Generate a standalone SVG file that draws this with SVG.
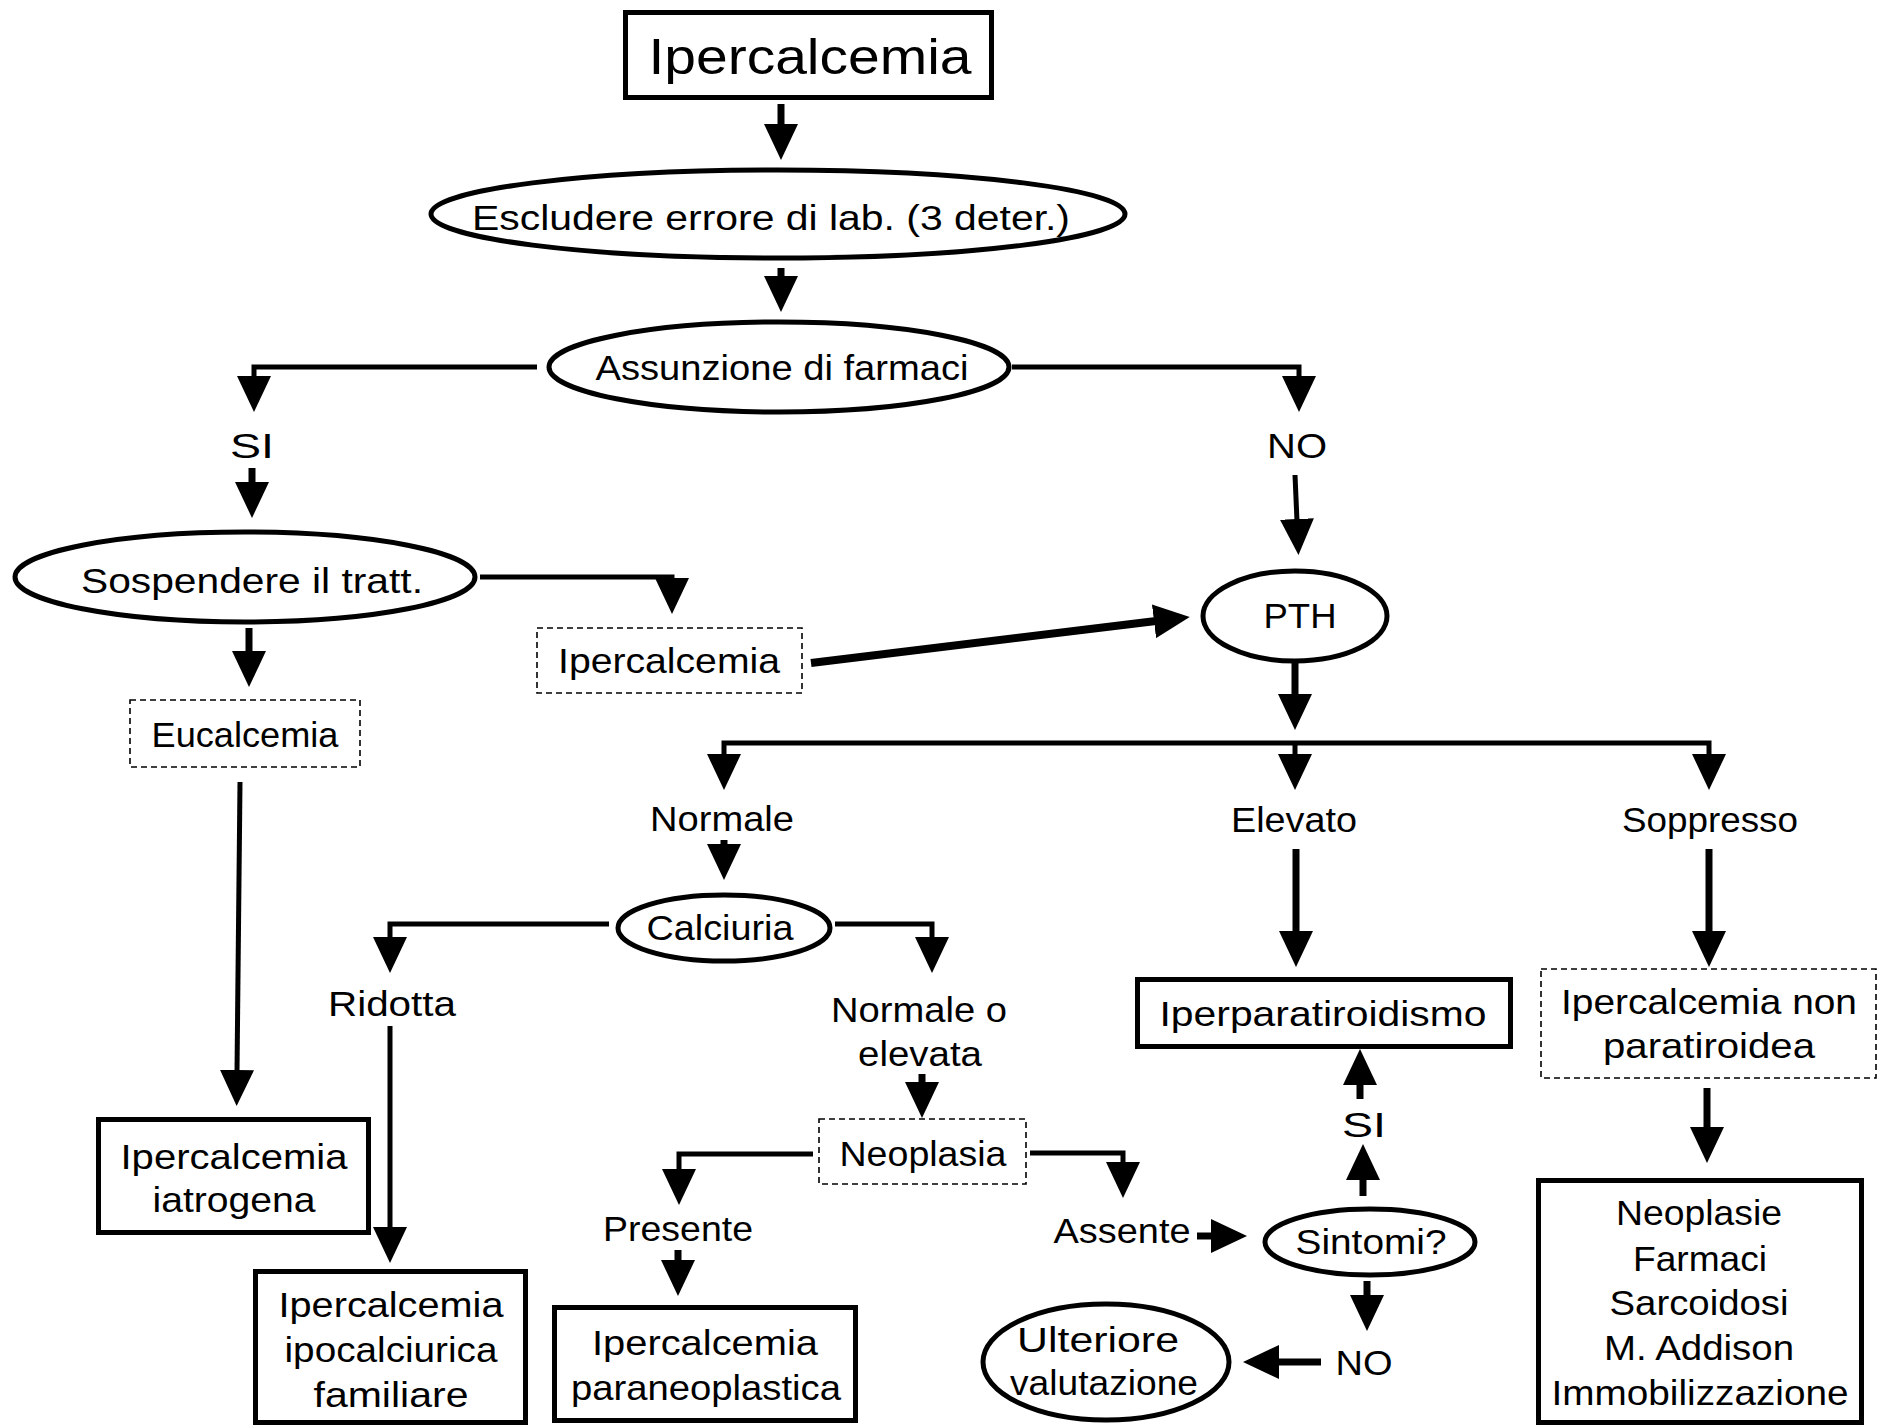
<svg xmlns="http://www.w3.org/2000/svg" width="1889" height="1428" viewBox="0 0 1889 1428">
<style>
text{font-family:"Liberation Sans","DejaVu Sans",sans-serif;font-size:35px;fill:#000;text-anchor:middle}
.t{font-size:50px}
.sh{fill:#fff;stroke:#000;stroke-width:5}
.ds{fill:#fff;stroke:#000;stroke-width:1.6;stroke-dasharray:6 4}
.c{fill:none;stroke:#000;stroke-width:5;marker-end:url(#ah)}
.c7{fill:none;stroke:#000;stroke-width:7;marker-end:url(#ah)}
</style>
<defs>
<marker id="ah" markerUnits="userSpaceOnUse" markerWidth="36" markerHeight="34" refX="2" refY="17" orient="auto" viewBox="0 0 36 34">
<path d="M0,0 L36,17 L0,34 z" fill="#000"/>
</marker>
</defs>
<rect width="1889" height="1428" fill="#fff"/>
<g id="connectors">
<path class="c7" d="M781,104 V126"/>
<path class="c7" d="M781,268 V278"/>
<path class="c" d="M537,367 H254 V378"/>
<path class="c7" d="M252,468 V484"/>
<path class="c" d="M480,577 H672 V580"/>
<path class="c7" d="M249,628 V653"/>
<path class="c" d="M240,782 L237,1072"/>
<path fill="none" stroke="#000" stroke-width="8" marker-end="url(#ah)" d="M811,663 L1156,621"/>
<path class="c" d="M1012,367 H1299 V378"/>
<path class="c" d="M1295,475 L1297,521"/>
<path class="c7" d="M1295,663 V696"/>
<path class="c" d="M1295,743 H724 V756"/>
<path class="c" d="M1295,743 H1709 V756"/>
<path class="c" d="M1295,743 V756"/>
<path class="c7" d="M724,840 V846"/>
<path class="c" d="M609,924 H390 V939"/>
<path class="c" d="M390,1026 V1229"/>
<path class="c" d="M835,924 H932 V939"/>
<path class="c7" d="M922,1074 V1084"/>
<path class="c" d="M813,1154 H679 V1171"/>
<path class="c7" d="M678,1250 V1262"/>
<path class="c" d="M1030,1153 H1123 V1164"/>
<path class="c7" d="M1197,1236 H1213"/>
<path class="c7" d="M1363,1196 V1178"/>
<path class="c7" d="M1360,1099 V1083"/>
<path class="c7" d="M1367,1281 V1297"/>
<path class="c7" d="M1321,1362 H1277"/>
<path class="c7" d="M1296,849 V933"/>
<path class="c7" d="M1709,849 V933"/>
<path class="c7" d="M1707,1088 V1129"/>
</g>
<g id="n-ipercalcemia-top"><rect class="sh" x="625.5" y="12.5" width="366" height="85"/><text class="t" x="810" y="74" textLength="323" lengthAdjust="spacingAndGlyphs">Ipercalcemia</text></g>
<g id="n-escludere"><ellipse class="sh" cx="778" cy="214" rx="347" ry="44"/><text x="771" y="230" textLength="598" lengthAdjust="spacingAndGlyphs">Escludere errore di lab. (3 deter.)</text></g>
<g id="n-assunzione"><ellipse class="sh" cx="779" cy="367" rx="230" ry="45"/><text x="782" y="380" textLength="373" lengthAdjust="spacingAndGlyphs">Assunzione di farmaci</text></g>
<g id="l-si1"><text x="252" y="458" textLength="44" lengthAdjust="spacingAndGlyphs">SI</text></g>
<g id="l-no1"><text x="1297" y="458" textLength="60" lengthAdjust="spacingAndGlyphs">NO</text></g>
<g id="n-sospendere"><ellipse class="sh" cx="245" cy="577" rx="230" ry="45"/><text x="252" y="593" textLength="342" lengthAdjust="spacingAndGlyphs">Sospendere il tratt.</text></g>
<g id="n-ipercalcemia-dash"><rect class="ds" x="537" y="628" width="265" height="65"/><text x="669" y="673" textLength="222" lengthAdjust="spacingAndGlyphs">Ipercalcemia</text></g>
<g id="n-eucalcemia"><rect class="ds" x="130" y="700" width="230" height="67"/><text x="245" y="747" textLength="187" lengthAdjust="spacingAndGlyphs">Eucalcemia</text></g>
<g id="n-iatrogena"><rect class="sh" x="98.5" y="1119.5" width="270" height="113"/><text x="234" y="1169" textLength="227" lengthAdjust="spacingAndGlyphs">Ipercalcemia</text><text x="234" y="1212" textLength="163" lengthAdjust="spacingAndGlyphs">iatrogena</text></g>
<g id="n-pth"><ellipse class="sh" cx="1295" cy="616" rx="92" ry="45"/><text x="1300" y="628" textLength="73" lengthAdjust="spacingAndGlyphs">PTH</text></g>
<g id="l-normale"><text x="722" y="831" textLength="144" lengthAdjust="spacingAndGlyphs">Normale</text></g>
<g id="l-elevato"><text x="1294" y="832" textLength="126" lengthAdjust="spacingAndGlyphs">Elevato</text></g>
<g id="l-soppresso"><text x="1710" y="832" textLength="176" lengthAdjust="spacingAndGlyphs">Soppresso</text></g>
<g id="n-calciuria"><ellipse class="sh" cx="724" cy="928" rx="106" ry="33"/><text x="720" y="940" textLength="147" lengthAdjust="spacingAndGlyphs">Calciuria</text></g>
<g id="l-ridotta"><text x="392" y="1016" textLength="128" lengthAdjust="spacingAndGlyphs">Ridotta</text></g>
<g id="n-familiare"><rect class="sh" x="255.5" y="1271.5" width="270" height="151"/><text x="391" y="1317" textLength="225" lengthAdjust="spacingAndGlyphs">Ipercalcemia</text><text x="391" y="1362" textLength="213" lengthAdjust="spacingAndGlyphs">ipocalciurica</text><text x="391" y="1407" textLength="155" lengthAdjust="spacingAndGlyphs">familiare</text></g>
<g id="l-normale-elevata"><text x="919" y="1022" textLength="176" lengthAdjust="spacingAndGlyphs">Normale o</text><text x="920" y="1066" textLength="124" lengthAdjust="spacingAndGlyphs">elevata</text></g>
<g id="n-neoplasia"><rect class="ds" x="819" y="1119" width="207" height="65"/><text x="923" y="1166" textLength="167" lengthAdjust="spacingAndGlyphs">Neoplasia</text></g>
<g id="l-presente"><text x="678" y="1241" textLength="150" lengthAdjust="spacingAndGlyphs">Presente</text></g>
<g id="n-paraneoplastica"><rect class="sh" x="554.5" y="1307.5" width="301" height="113"/><text x="705" y="1355" textLength="226" lengthAdjust="spacingAndGlyphs">Ipercalcemia</text><text x="706" y="1400" textLength="270" lengthAdjust="spacingAndGlyphs">paraneoplastica</text></g>
<g id="l-assente"><text x="1122" y="1243" textLength="137" lengthAdjust="spacingAndGlyphs">Assente</text></g>
<g id="n-sintomi"><ellipse class="sh" cx="1370" cy="1242" rx="105" ry="33"/><text x="1371" y="1254" textLength="151" lengthAdjust="spacingAndGlyphs">Sintomi?</text></g>
<g id="l-si2"><text x="1364" y="1137" textLength="44" lengthAdjust="spacingAndGlyphs">SI</text></g>
<g id="n-iperparatiroidismo"><rect class="sh" x="1137.5" y="979.5" width="373" height="67"/><text x="1323" y="1026" textLength="327" lengthAdjust="spacingAndGlyphs">Iperparatiroidismo</text></g>
<g id="l-no2"><text x="1364" y="1375" textLength="57" lengthAdjust="spacingAndGlyphs">NO</text></g>
<g id="n-ulteriore"><ellipse class="sh" cx="1106" cy="1362" rx="123" ry="58"/><text x="1098" y="1352" textLength="162" lengthAdjust="spacingAndGlyphs">Ulteriore</text><text x="1104" y="1395" textLength="188" lengthAdjust="spacingAndGlyphs">valutazione</text></g>
<g id="n-non-paratiroidea"><rect class="ds" x="1541" y="969" width="335" height="109"/><text x="1709" y="1014" textLength="296" lengthAdjust="spacingAndGlyphs">Ipercalcemia non</text><text x="1709" y="1058" textLength="212" lengthAdjust="spacingAndGlyphs">paratiroidea</text></g>
<g id="n-cause"><rect class="sh" x="1538.5" y="1180.5" width="323" height="242"/><text x="1699" y="1225" textLength="166" lengthAdjust="spacingAndGlyphs">Neoplasie</text><text x="1700" y="1271" textLength="134" lengthAdjust="spacingAndGlyphs">Farmaci</text><text x="1699" y="1315" textLength="179" lengthAdjust="spacingAndGlyphs">Sarcoidosi</text><text x="1699" y="1360" textLength="190" lengthAdjust="spacingAndGlyphs">M. Addison</text><text x="1700" y="1405" textLength="297" lengthAdjust="spacingAndGlyphs">Immobilizzazione</text></g>
</svg>
